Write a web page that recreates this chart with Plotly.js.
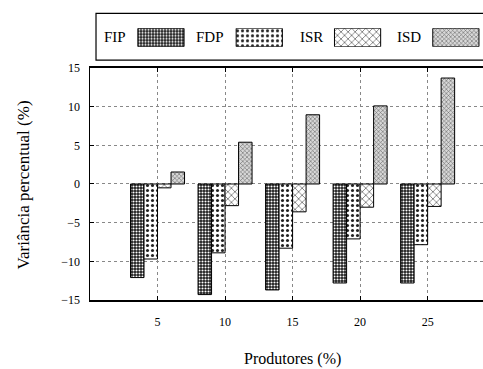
<!DOCTYPE html>
<html>
<head>
<meta charset="utf-8">
<script src="https://cdn.plot.ly/plotly-3.0.1.min.js"></script>
<style>html,body{margin:0;padding:0;background:#fff;}#chart{width:483px;height:369px;}</style>
</head>
<body>
<div id="chart"></div>
<script>
// Data
const categories = [5, 10, 15, 20, 25];
const seriesNames = ["FIP", "FDP", "ISR", "ISD"];
const fipValues = [-12.1, -14.3, -13.7, -12.8, -12.8];
const fdpValues = [-9.7, -8.9, -8.3, -7.1, -7.85];
const isrValues = [-0.5, -2.8, -3.6, -3.0, -2.9];
const isdValues = [1.55, 5.4, 8.95, 10.1, 13.7];
const yTickValues = [-15, -10, -5, 0, 5, 10, 15];
const xTickValues = [5, 10, 15, 20, 25];
const xTitle = "Produtores (%)";
const yTitle = "Variância percentual (%)";

const seriesValues = [fipValues, fdpValues, isrValues, isdValues];
const patterns = [
  {shape: ".", fgcolor: "#ffffff", bgcolor: "#1a1a1a", size: 3, solidity: 0.4, fillmode: "replace"},
  {shape: ".", fgcolor: "#222222", bgcolor: "#ffffff", size: 5, solidity: 0.3, fillmode: "replace"},
  {shape: "x", fgcolor: "#555555", bgcolor: "#ffffff", size: 5, solidity: 0.25, fillmode: "replace"},
  {shape: "x", fgcolor: "#666666", bgcolor: "#d8d8d8", size: 3, solidity: 0.35, fillmode: "replace"}
];
const fallback = ["#333", "#999", "#ddd", "#aaa"];
const FONT = "Liberation Serif";

const traces = seriesNames.map((name, i) => ({
  type: "bar",
  name: name,
  x: categories,
  y: seriesValues[i],
  marker: {color: fallback[i], pattern: patterns[i], line: {color: "#000", width: 1}},
  showlegend: false,
  hoverinfo: "x+y+name"
}));

// legend swatches drawn on a helper axis pair
seriesNames.forEach((name, i) => {
  traces.push({
    type: "bar",
    x: [name],
    y: [1],
    base: [0],
    width: [0.47],
    offset: [-0.235],
    xaxis: "x2",
    yaxis: "y2",
    marker: {color: fallback[i], pattern: patterns[i], line: {color: "#000", width: 1}},
    showlegend: false,
    hoverinfo: "skip"
  });
});

const annotations = seriesNames.map(name => ({
  text: name, x: name, xref: "x2", y: 0.5, yref: "y2",
  xanchor: "right", yanchor: "middle", xshift: -33, showarrow: false,
  font: {family: FONT, size: 15, color: "#000"}
}));
annotations.push({
  text: xTitle, xref: "paper", yref: "paper", x: 0.514, y: -0.206,
  xanchor: "center", yanchor: "middle", showarrow: false,
  font: {family: FONT, size: 16, color: "#000"}
});
annotations.push({
  text: yTitle, xref: "paper", yref: "paper", x: -0.17, y: 0.40,
  xanchor: "center", yanchor: "middle", textangle: -90, showarrow: false,
  font: {family: FONT, size: 17, color: "#000"}
});

const layout = {
  width: 483, height: 369,
  margin: {l: 90, r: 0, t: 13, b: 69, pad: 0},
  paper_bgcolor: "#fff", plot_bgcolor: "#fff",
  barmode: "group", bargap: 0.2, bargroupgap: 0,
  font: {family: FONT, size: 12, color: "#000"},
  xaxis: {
    range: [0, 29.1], tickvals: xTickValues, ticks: "inside", ticklen: 4,
    tickcolor: "#000", showline: true, linecolor: "#000", linewidth: 1.5,
    mirror: "ticks", showgrid: true, gridcolor: "#888", griddash: "dot",
    gridwidth: 1, zeroline: false, ticklabelstandoff: 10,
    tickfont: {family: FONT, size: 12, color: "#000"}
  },
  yaxis: {
    domain: [0, 0.8084], range: [-15, 15], tickvals: yTickValues,
    ticks: "inside", ticklen: 4, tickcolor: "#000", showline: true,
    linecolor: "#000", linewidth: 1.5, mirror: false, showgrid: true,
    gridcolor: "#888", griddash: "dot", gridwidth: 1, zeroline: false,
    ticklabelstandoff: 6, tickfont: {family: FONT, size: 12, color: "#000"}
  },
  xaxis2: {
    anchor: "y2", domain: [0, 1], type: "category", range: [-0.722, 3.276],
    visible: false, fixedrange: true
  },
  yaxis2: {
    anchor: "x2", domain: [0.8826, 0.9467], range: [0, 1],
    visible: false, fixedrange: true
  },
  shapes: [{
    type: "rect", xref: "paper", yref: "paper",
    x0: 0.0153, x1: 1.05, y0: 0.836, y1: 0.9985,
    line: {color: "#000", width: 1.2}, fillcolor: "rgba(0,0,0,0)", layer: "below"
  }],
  annotations: annotations,
  showlegend: false
};

Plotly.newPlot("chart", traces, layout, {displayModeBar: false, staticPlot: true});
</script>
</body>
</html>
